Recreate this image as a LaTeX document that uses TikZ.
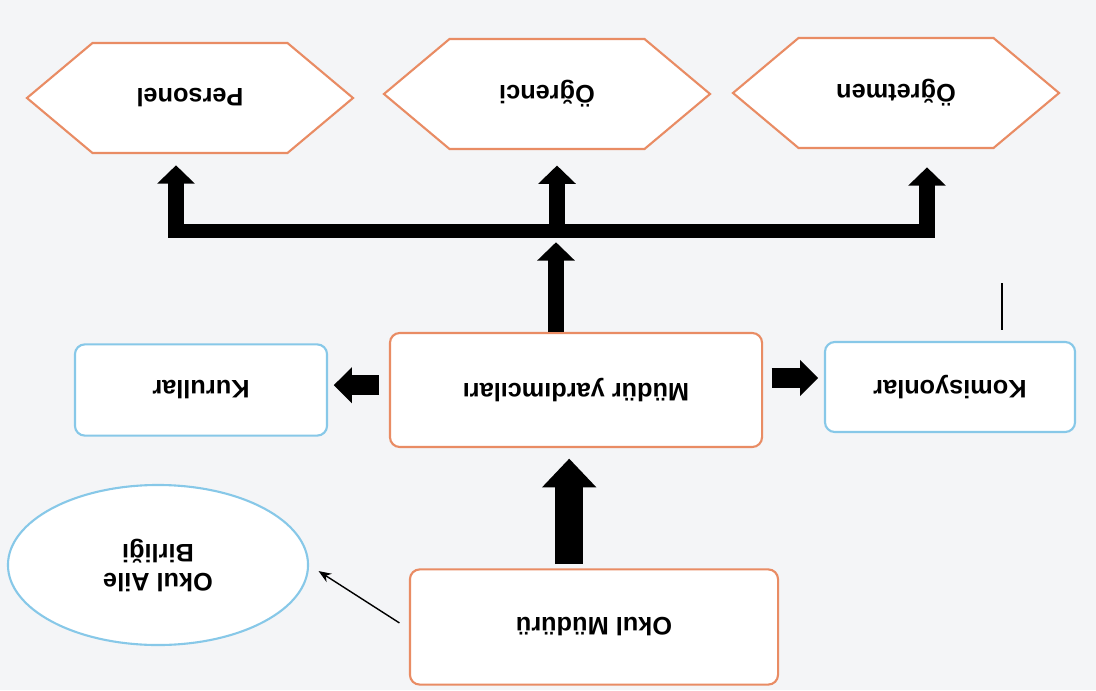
\documentclass[tikz,border=0pt]{standalone}
\usepackage{fontspec}
\setmainfont{Liberation Sans}
\usetikzlibrary{arrows.meta,shapes.geometric,shapes.symbols}
\definecolor{turuncu}{RGB}{233,140,100}
\definecolor{mavi}{RGB}{135,200,232}
\definecolor{kagit}{RGB}{244,245,247}
\newcommand{\ters}[1]{\rotatebox[origin=c]{180}{#1}}

\begin{document}
\begin{tikzpicture}[x=0.025cm, y=-0.025cm,
	every node/.style={font=\fontsize{18}{21}\selectfont\bfseries, align=center, inner sep=2pt},
	kutu/.style={draw=turuncu, line width=1.5pt, rounded corners=7pt, fill=white},
	mavikutu/.style={draw=mavi, line width=1.5pt, rounded corners=7pt, fill=white},
	altigen/.style={draw=turuncu, line width=1.5pt, fill=white, shape=signal, signal to=east and west, signal pointer angle=80, minimum width=8.15cm, minimum height=2.75cm},
	ince/.style={line width=1pt, -{Stealth[length=9pt,width=7pt]}},
	kalin/.style={line width=11.3pt, -{Triangle[width=26pt,length=13pt]}},
	yanok/.style={line width=14pt, -{Triangle[width=25pt,length=13pt]}},
	buyukok/.style={line width=20pt, -{Triangle[width=37.5pt,length=20.5pt]}}]
	\fill[kagit] (0,0) rectangle (1096,690);
	\useasboundingbox (0,0) rectangle (1096,690);

	\node [altigen] (personel) at (190,98) {\ters{Personel}};
	\node [altigen] (ogrenci) at (547,94) {\ters{Öğrenci}};
	\node [altigen] (ogretmen) at (896,93) {\ters{Öğretmen}};
	\node [kutu, minimum width=9.3cm, minimum height=2.85cm] (yard) at (576,390) {\ters{Müdür yardımcıları}};
	\node [mavikutu, minimum width=6.3cm, minimum height=2.28cm] (kurul) at (201,390) {\ters{Kurullar}};
	\node [mavikutu, minimum width=6.25cm, minimum height=2.25cm] (komisyon) at (950,387) {\ters{Komisyonlar}};
	\node [kutu, minimum width=9.2cm, minimum height=2.88cm] (mudur) at (594,627) {\ters{Okul Müdürü}};
	\node [ellipse, draw=mavi, line width=1.5pt, fill=white, minimum width=7.5cm, minimum height=4cm] (aile) at (158,565) {\ters{\begin{tabular}{@{}c@{}}Okul Aile\\Birliği\end{tabular}}};

	% dagitim cubugu
	\coordinate (bs) at (168,231);
	\coordinate (be) at (935,231);
	\coordinate (b1) at (176,231);
	\coordinate (b2) at (557,231);
	\coordinate (b3) at (927,231);
	\coordinate (c1) at (1002,283);
	\coordinate (c2) at (1002,330);

	\draw [buyukok, shorten <=3pt, shorten >=7.5pt] ([xshift=-0.62cm]mudur.north) -- ([xshift=-0.62cm]mudur.north |- yard.south);
	\draw [yanok, shorten <=7pt, shorten >=4pt] ([yshift=0.12cm]yard.west) -- ([yshift=0.12cm]yard.west -| kurul.east);
	\draw [yanok, shorten <=6pt, shorten >=4pt] ([yshift=0.3cm]yard.east) -- ([yshift=0.3cm]yard.east -| komisyon.west);
	\draw [kalin, shorten >=8pt] ([xshift=-0.5cm]yard.north) -- ([xshift=-0.5cm]yard.north |- b2);
	\draw [line width=10.6pt] (bs) -- (be);
	\draw [kalin, shorten >=8pt] (b1) -- (b1 |- personel.south);
	\draw [kalin, shorten >=11pt] (b2) -- (b2 |- ogrenci.south);
	\draw [kalin, shorten >=13pt] (b3) -- (b3 |- ogretmen.south);
	\draw [ince, shorten <=8pt, shorten >=8pt] ([yshift=-0.05cm]mudur.west) -- (aile.east);
	\draw [line width=1pt] (c1) -- (c2);
\end{tikzpicture}
\end{document}
